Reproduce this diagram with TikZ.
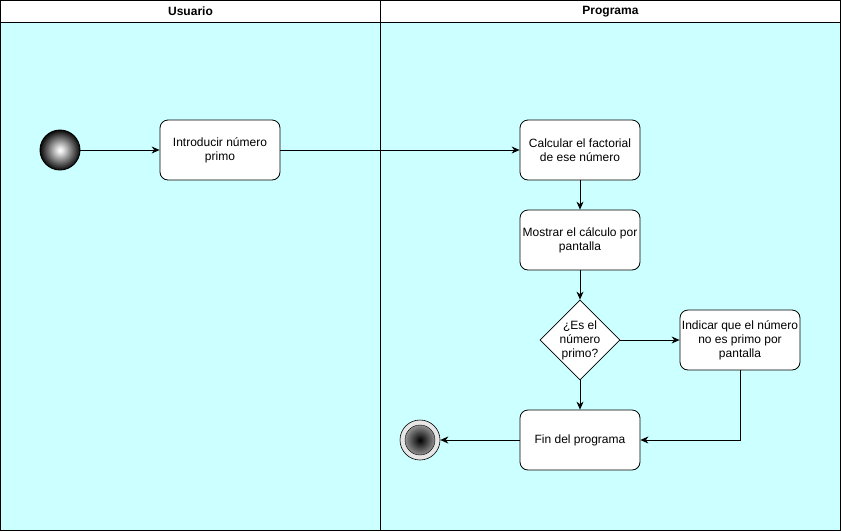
\documentclass[tikz,border=0pt]{standalone}
\usepackage{fontspec}
\setmainfont{Liberation Sans}
\usetikzlibrary{arrows.meta,shapes.geometric}
\definecolor{lane}{HTML}{CCFFFF}
\definecolor{ringgray}{HTML}{E6E6E6}
\pgfdeclareradialshading{startball}{\pgfpoint{0bp}{0bp}}{color(0bp)=(white); color(3bp)=(white!92!black); color(26bp)=(black); color(50bp)=(black)}
\pgfdeclareradialshading{endball}{\pgfpoint{0bp}{0bp}}{color(0bp)=(black); color(34bp)=(white!78!black); color(50bp)=(white!78!black)}
\tikzset{
  lanebox/.style={draw=black, fill=lane, line width=0.8pt},
  headbox/.style={draw=black, fill=white, line width=0.8pt},
  headtext/.style={font=\fontsize{12}{14}\selectfont\bfseries},
  act/.style={draw=black, fill=white, rounded corners=8pt, line width=0.8pt,
    minimum width=120pt, minimum height=60pt, inner sep=0pt, align=center,
    font=\fontsize{12}{14}\selectfont},
  decbox/.style={draw=black, fill=white, diamond, line width=0.8pt,
    minimum width=80pt, minimum height=80pt, inner sep=0pt},
  dectext/.style={align=center, font=\fontsize{12}{14}\selectfont, inner sep=0pt},
  startnode/.style={circle, draw=black, line width=0.9pt, minimum size=40pt, inner sep=0pt, shading=startball},
  endouter/.style={circle, draw=black, fill=ringgray, line width=0.6pt, minimum size=40pt, inner sep=0pt},
  endinner/.style={circle, draw=black, line width=0.4pt, minimum size=30pt, inner sep=0pt, shading=endball},
  flow/.style={-{Stealth[length=8pt,width=7pt]}, line width=0.8pt, draw=black}
}
\begin{document}
\begin{tikzpicture}[x=1pt,y=-1pt]
\useasboundingbox (0,0) rectangle (841,531);
% lanes
\draw[lanebox] (0.5,22.5) rectangle (380.5,530.5);
\draw[lanebox] (380.5,22.5) rectangle (840.5,530.5);
\draw[headbox] (0.5,0.5) rectangle (380.5,22.5);
\draw[headbox] (380.5,0.5) rectangle (840.5,22.5);
\node[headtext] (hu) at (190.5,11.5) {Usuario};
\node[headtext] (hp) at (610.5,11.5) {Programa};
% nodes
\node[startnode] (start) at (60,150) {};
\node[act] (intro) at (220,150) {Introducir número\\primo};
\node[act] (calc) at (580,150) {Calcular el factorial\\de ese número};
\node[act] (most) at (580,240) {Mostrar el cálculo por\\pantalla};
\node[decbox] (dec) at (580,340) {};
\node[dectext] (dect) at (580,340) {¿Es el\\número\\primo?};
\node[act] (ind) at (740,340) {Indicar que el número\\no es primo por\\pantalla};
\node[act] (fin) at (580,440) {Fin del programa};
\node[endouter] (end) at (420,440) {};
\node[endinner] (endi) at (420,440) {};
% connectors
\draw[flow] (start) -- (intro);
\draw[flow] (intro) -- (calc);
\draw[flow] (calc) -- (most);
\draw[flow] (most) -- (dec);
\draw[flow] (dec) -- (ind);
\draw[flow] (dec) -- (fin);
\draw[flow] (ind.south) |- (fin.east);
\draw[flow] (fin) -- (end);
\end{tikzpicture}
\end{document}
